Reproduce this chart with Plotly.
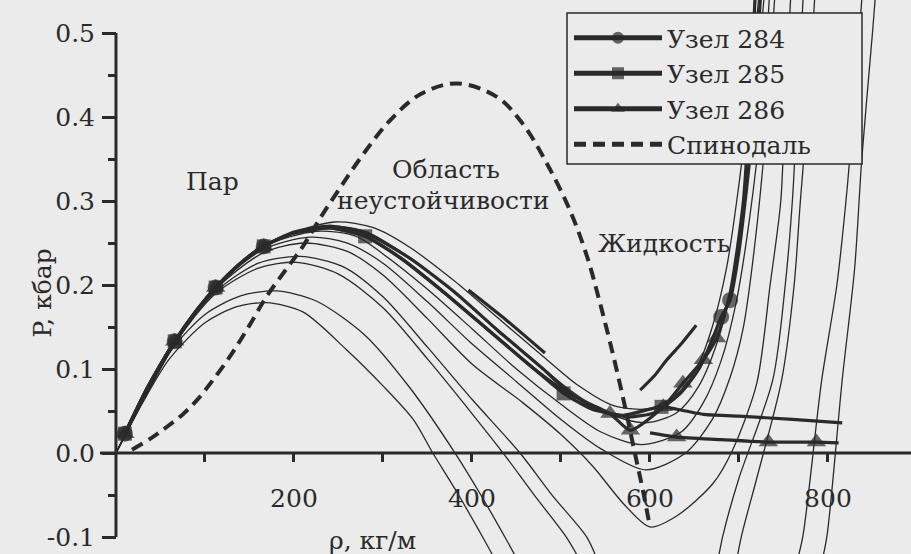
import plotly.graph_objects as go

# ---------------- data ----------------
SPIN_RHO = [18, 40, 57, 75, 91, 109, 130, 150, 169, 190, 210, 229, 252, 278, 308, 342, 383, 428, 457, 484, 510, 529, 544, 559, 572, 583, 592, 600]
SPIN_P = [0.004, 0.018, 0.031, 0.046, 0.063, 0.087, 0.118, 0.152, 0.186, 0.217, 0.246, 0.279, 0.316, 0.356, 0.396, 0.427, 0.44, 0.424, 0.392, 0.345, 0.289, 0.235, 0.178, 0.115, 0.055, 0.0, -0.044, -0.088]

ISO = [
    ([0, 30, 60, 100, 135, 169, 210, 259, 300, 334, 356, 385, 412, 425, None, 765, 772, 793, 810, 822, 832, 838],
     [0, 0.06, 0.112, 0.155, 0.174, 0.179, 0.168, 0.123, 0.08, 0.04, 0.0, -0.05, -0.1, -0.125, None, -0.13, -0.098, 0.087, 0.2, 0.32, 0.45, 0.54]),
    ([0, 30, 62, 100, 140, 180, 225, 280, 330, 381, 410, 437, 450, None, 793, 799, 816, 830, 838, 850, 853],
     [0, 0.062, 0.122, 0.165, 0.187, 0.193, 0.181, 0.14, 0.078, 0.0, -0.05, -0.1, -0.125, None, -0.13, -0.098, 0.087, 0.22, 0.35, 0.5, 0.54]),
    ([0, 66, 112, 160, 203, 250, 300, 350, 400, 435, 470, 506, 520, None, 676, 682, 700, 738, 752, 760, 766, 772],
     [0, 0.13, 0.19, 0.22, 0.227, 0.213, 0.173, 0.112, 0.047, 0.0, -0.05, -0.1, -0.125, None, -0.13, -0.098, -0.03, 0.087, 0.2, 0.3, 0.42, 0.54]),
    ([0, 66, 112, 160, 207, 255, 300, 350, 400, 454, 490, 529, 540, None, 697, 703, 720, 748, 762, 769, 778, 785],
     [0, 0.13, 0.192, 0.226, 0.234, 0.222, 0.186, 0.126, 0.064, 0.0, -0.05, -0.1, -0.125, None, -0.13, -0.098, -0.03, 0.087, 0.2, 0.3, 0.42, 0.54]),
    ([0, 66, 112, 165, 212, 260, 300, 350, 400, 457, 500, 536, 570, 600, 630, 671, 693, 720, 735, 747, 752, 758],
     [0, 0.13, 0.195, 0.238, 0.25, 0.24, 0.212, 0.16, 0.106, 0.06, 0.022, -0.016, -0.06, -0.088, -0.075, -0.036, 0.004, 0.083, 0.2, 0.3, 0.42, 0.54]),
    ([0, 66, 112, 165, 218, 260, 300, 350, 400, 450, 500, 545, 595, 640, 670, 690, 705, 718, 730, 740],
     [0, 0.13, 0.197, 0.242, 0.257, 0.25, 0.226, 0.18, 0.13, 0.085, 0.04, 0.005, -0.02, 0.0, 0.04, 0.09, 0.15, 0.25, 0.38, 0.54]),
    ([0, 66, 112, 165, 225, 270, 300, 350, 400, 450, 500, 545, 590, 635, 660, 680, 697, 712, 725, 734],
     [0, 0.132, 0.198, 0.245, 0.264, 0.258, 0.237, 0.195, 0.148, 0.1, 0.058, 0.025, 0.01, 0.025, 0.06, 0.11, 0.18, 0.28, 0.4, 0.54]),
    ([0, 66, 112, 165, 235, 280, 320, 370, 420, 470, 510, 550, 595, 630, 655, 675, 692, 706, 718, 728],
     [0, 0.133, 0.198, 0.246, 0.27, 0.264, 0.24, 0.2, 0.155, 0.11, 0.075, 0.048, 0.036, 0.048, 0.08, 0.13, 0.2, 0.3, 0.42, 0.54]),
    ([0, 66, 112, 165, 245, 290, 330, 380, 430, 480, 520, 560, 600, 630, 652, 670, 686, 700, 712, 722],
     [0, 0.133, 0.198, 0.247, 0.275, 0.268, 0.245, 0.205, 0.16, 0.115, 0.08, 0.056, 0.053, 0.07, 0.1, 0.15, 0.22, 0.32, 0.43, 0.54]),
]

N284_RHO = [10, 35, 66, 90, 112, 140, 166, 200, 240, 280, 330, 380, 430, 480, 505, 540, 575, 605, 635, 655, 670, 680, 690, 700, 712, 724,
            None, 396, 440, 482, None, 589, 605, 619, 636, 652]
N284_P = [0.023, 0.077, 0.133, 0.169, 0.197, 0.226, 0.246, 0.263, 0.27, 0.262, 0.232, 0.192, 0.145, 0.1, 0.076, 0.052, 0.043, 0.048, 0.072, 0.1, 0.135, 0.162, 0.182, 0.24, 0.35, 0.54,
          None, 0.194, 0.157, 0.119, None, 0.075, 0.092, 0.111, 0.131, 0.152]
N284_MARK = [(10, 0.023), (66, 0.133), (112, 0.197), (166, 0.246), (680, 0.162), (690, 0.182)]

N285_RHO = [10, 35, 66, 90, 112, 140, 166, 200, 240, 280, 320, 370, 420, 470, 503, 535, 570, 613, 640, 660, 700, 760, 816]
N285_P = [0.023, 0.077, 0.133, 0.169, 0.197, 0.226, 0.246, 0.262, 0.268, 0.258, 0.232, 0.19, 0.145, 0.1, 0.071, 0.052, 0.045, 0.055, 0.05, 0.046, 0.044, 0.04, 0.036]
N285_MARK = [(10, 0.023), (66, 0.133), (112, 0.197), (166, 0.246), (280, 0.258), (503, 0.071), (613, 0.055)]

N286_RHO = [10, 35, 66, 90, 112, 140, 166, 200, 240, 280, 320, 370, 420, 470, 510, 555, 578, 615, 637, 660, 675, 690, 705, 718,
            None, 600, 630, 680, 733, 787, 812]
N286_P = [0.023, 0.077, 0.133, 0.169, 0.197, 0.226, 0.246, 0.262, 0.268, 0.258, 0.232, 0.19, 0.145, 0.1, 0.07, 0.047, 0.027, 0.055, 0.083, 0.111, 0.137, 0.19, 0.3, 0.54,
          None, 0.024, 0.019, 0.016, 0.013, 0.013, 0.012]
N286_MARK = [(10, 0.023), (66, 0.133), (112, 0.197), (166, 0.246), (555, 0.047), (578, 0.027), (615, 0.055), (637, 0.083),
             (660, 0.111), (675, 0.137), (630, 0.019), (733, 0.013), (787, 0.013)]

SERIES_NAMES = ["Узел 284", "Узел 285", "Узел 286", "Спинодаль"]
X_TICKS = [100, 200, 300, 400, 500, 600, 700, 800]
X_TICK_LABELS = ["", "200", "", "400", "", "600", "", "800"]
Y_TICKS = [-0.1, 0.0, 0.1, 0.2, 0.3, 0.4, 0.5]
Y_TICK_LABELS = ["-0.1", "0.0", "0.1", "0.2", "0.3", "0.4", "0.5"]
X_TITLE = "ρ, кг/м"
Y_TITLE = "P, кбар"
REGION_LABELS = [("Пар", 108, 0.323), ("Область", 371, 0.338), ("неустойчивости", 368, 0.301), ("Жидкость", 616, 0.25)]

# ---------------- style ----------------
W, H = 911, 554
BG = "#ebebeb"
INK = "#2a2a2a"
FONT = "DejaVu Serif"
FS = 25
X_RANGE = [-130.3, 893.3]
Y_RANGE = [-0.1202, 0.5393]


def sizes(xs, ys, marks, s):
    ms = set(marks)
    return [s if (x is not None and (x, y) in ms) else 0 for x, y in zip(xs, ys)]


fig = go.Figure()

for rx, py in ISO:
    fig.add_trace(go.Scatter(x=rx, y=py, mode="lines", line=dict(color=INK, width=1.3, shape="spline", smoothing=0.8),
                             showlegend=False, hoverinfo="skip"))

fig.add_trace(go.Scatter(x=SPIN_RHO, y=SPIN_P, mode="lines", name=SERIES_NAMES[3], legendrank=4,
                         line=dict(color=INK, width=4, dash="12px,7px", shape="spline", smoothing=1.0)))

for rx, py, mk, sym, s, nm, rk in [
    (N284_RHO, N284_P, N284_MARK, "circle", 16, SERIES_NAMES[0], 1),
    (N285_RHO, N285_P, N285_MARK, "square", 14, SERIES_NAMES[1], 2),
    (N286_RHO, N286_P, N286_MARK, "triangle-up", 17, SERIES_NAMES[2], 3),
]:
    fig.add_trace(go.Scatter(x=rx, y=py, mode="lines+markers", name=nm, legendrank=rk,
                             line=dict(color=INK, width=3.2, shape="spline", smoothing=0.6),
                             marker=dict(symbol=sym, size=sizes(rx, py, mk, s), color=INK, line=dict(width=0))))

# axis lines
fig.add_shape(type="line", x0=0, x1=0, y0=Y_TICKS[0], y1=Y_TICKS[-1], xref="x", yref="y",
              line=dict(color=INK, width=3))
fig.add_shape(type="line", x0=-18, x1=X_RANGE[1], y0=0, y1=0, xref="x", yref="y",
              line=dict(color=INK, width=3))
# legend frame
fig.add_shape(type="rect", x0=567 / W, x1=862 / W, y0=1 - 164 / H, y1=1 - 13 / H, xref="paper", yref="paper",
              fillcolor=BG, line=dict(color=INK, width=1.5), layer="above")

for txt, rx, py in REGION_LABELS:
    fig.add_annotation(x=rx, y=py, xref="x", yref="y", text=txt, showarrow=False,
                       font=dict(family=FONT, size=FS, color=INK))

fig.add_annotation(x=372 / W, y=0, xref="paper", yref="paper", text=X_TITLE, showarrow=False,
                   xanchor="center", yanchor="bottom", yshift=-3, font=dict(family=FONT, size=FS, color=INK))
fig.add_annotation(x=25 / W, y=1 - 293 / H, xref="paper", yref="paper", text=Y_TITLE, showarrow=False,
                   textangle=-90, font=dict(family=FONT, size=FS, color=INK))

fig.update_layout(
    width=W, height=H, margin=dict(l=0, r=0, t=0, b=0),
    paper_bgcolor=BG, plot_bgcolor=BG,
    font=dict(family=FONT, size=FS, color=INK),
    xaxis=dict(range=X_RANGE, domain=[0, 1], anchor="free", position=(H - 453) / H, side="bottom",
               showgrid=False, zeroline=False, showline=False,
               tickmode="array", tickvals=X_TICKS, ticktext=X_TICK_LABELS,
               ticks="outside", ticklen=8, tickwidth=3, tickcolor=INK, ticklabelstandoff=15,
               tickfont=dict(family=FONT, size=FS, color=INK), automargin=False),
    yaxis=dict(range=Y_RANGE, domain=[0, 1], anchor="free", position=116 / W, side="left",
               showgrid=False, zeroline=False, showline=False,
               tickmode="array", tickvals=Y_TICKS, ticktext=Y_TICK_LABELS,
               ticks="outside", ticklen=14, tickwidth=3, tickcolor=INK, ticklabelstandoff=2,
               minor=dict(tick0=0, dtick=0.05, ticks="outside", ticklen=8, tickwidth=3, tickcolor=INK),
               tickfont=dict(family=FONT, size=FS, color=INK), automargin=False),
    legend=dict(x=569 / W, y=1 - 15 / H, xanchor="left", yanchor="top", bgcolor="rgba(0,0,0,0)",
                borderwidth=0, font=dict(family=FONT, size=FS, color=INK),
                itemsizing="constant", itemwidth=88, tracegroupgap=0),
    showlegend=True,
)

fig.write_html("out.html", config={"displayModeBar": False},
               post_script="document.body.style.margin='0px';document.body.style.background='#ebebeb';document.body.style.overflow='hidden';")
